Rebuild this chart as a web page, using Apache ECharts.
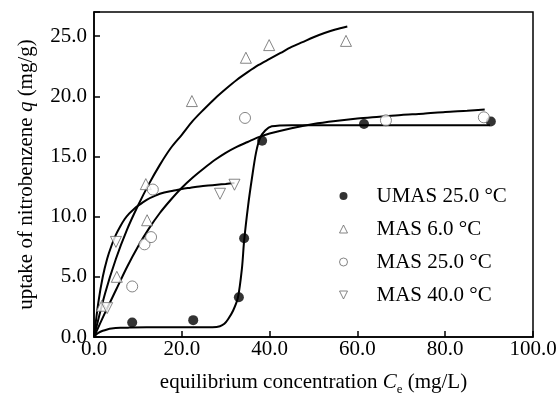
<!DOCTYPE html>
<html>
<head>
<meta charset="utf-8">
<script src="https://cdn.jsdelivr.net/npm/echarts@6/dist/echarts.min.js"></script>
<style>html,body{margin:0;padding:0;background:#fff}#c{width:560px;height:397px}</style>
</head>
<body>
<div id="c"></div>
<script>
// Measured points
const umasX = [8.7, 22.6, 33.0, 34.2, 38.3, 61.5, 90.4];
const umasY = [1.2, 1.4, 3.3, 8.2, 16.3, 17.7, 17.9];
const mas6X = [1.8, 5.2, 12.1, 11.8, 22.3, 34.6, 39.9, 57.4];
const mas6Y = [2.6, 5.0, 9.7, 12.7, 19.6, 23.2, 24.25, 24.6];
const mas25X = [8.7, 11.5, 13.0, 13.4, 34.4, 66.5, 88.8];
const mas25Y = [4.2, 7.7, 8.3, 12.25, 18.2, 18.0, 18.25];
const mas40X = [3.0, 5.0, 28.7, 32.0];
const mas40Y = [2.4, 7.9, 11.9, 12.65];

// Fitted curves
const umasFitX = [0, 0.5, 1, 2, 3, 4, 6, 8, 12, 16, 20, 24, 27, 28.7, 29.7, 30.5, 31.7, 32.8, 33.7, 34.2, 35.1, 36.0, 36.9, 37.8, 39.0, 40.5, 45, 60, 75, 90.2];
const umasFitY = [0, 0.2, 0.35, 0.52, 0.63, 0.7, 0.76, 0.78, 0.8, 0.8, 0.8, 0.81, 0.82, 0.9, 1.1, 1.45, 2.2, 3.3, 5.7, 8.0, 10.9, 13.25, 15.3, 16.5, 17.15, 17.5, 17.6, 17.6, 17.6, 17.6];
const mas6FitX = [0, 2.5, 5, 7.5, 10, 12.5, 15, 17.5, 20, 22.5, 25, 27.5, 30, 32.5, 35, 37.5, 40, 42.5, 45, 47.5, 50, 52.5, 55, 57.7];
const mas6FitY = [0, 3.6, 6.5, 8.9, 10.9, 12.7, 14.3, 15.7, 16.8, 17.95, 18.9, 19.8, 20.6, 21.35, 22.0, 22.6, 23.1, 23.6, 24.1, 24.5, 24.9, 25.25, 25.55, 25.8];
const mas25FitX = [0, 2.5, 5, 7.5, 10, 12.5, 15, 17.5, 20, 22.5, 25, 27.5, 30, 32.5, 35, 37.5, 40, 45, 50, 55, 60, 65, 70, 75, 80, 85, 89];
const mas25FitY = [0, 2.0, 3.9, 5.8, 7.5, 9.0, 10.3, 11.4, 12.4, 13.25, 14.0, 14.7, 15.3, 15.8, 16.2, 16.6, 16.9, 17.35, 17.7, 17.95, 18.15, 18.3, 18.45, 18.55, 18.7, 18.8, 18.9];
const mas40FitX = [0, 1, 2, 3, 4, 5, 6, 7, 8, 9, 10, 12, 14, 16, 18, 20, 22, 24, 26, 28, 30, 32];
const mas40FitY = [0, 2.9, 5.0, 6.5, 7.6, 8.5, 9.2, 9.8, 10.25, 10.6, 10.9, 11.4, 11.75, 12.0, 12.15, 12.3, 12.4, 12.5, 12.58, 12.65, 12.72, 12.8];

const xTicks = [0, 20, 40, 60, 80, 100];
const yTicks = [0, 5, 10, 15, 20, 25];

const names = ['UMAS 25.0 °C', 'MAS 6.0 °C', 'MAS 25.0 °C', 'MAS 40.0 °C'];

function zip(a, b) { return a.map((v, i) => [v, b[i]]); }

const font = 'Liberation Serif';
const gray = '#666';

const chart = echarts.init(document.getElementById('c'));

function scatter(name, xs, ys, symbol, filled) {
  return {
    name: name, type: 'scatter', data: zip(xs, ys), symbol: symbol, symbolSize: filled ? 10 : 11,
    itemStyle: filled ? { color: '#000', borderColor: '#000', borderWidth: 0 }
                      : { color: '#fff', borderColor: gray, borderWidth: 1 },
    z: 3
  };
}
function fit(name, xs, ys) {
  return {
    name: name, type: 'line', data: zip(xs, ys), showSymbol: false, symbol: 'none',
    smooth: 0.3,
    lineStyle: { color: '#000', width: 2 }, z: 2, silent: true
  };
}

chart.setOption({
  animation: false,
  backgroundColor: '#fff',
  textStyle: { fontFamily: font },
  grid: { left: 94, right: 27, top: 12, bottom: 60, containLabel: false, outerBoundsMode: 'none',
    show: true, borderColor: '#000', borderWidth: 1.5, backgroundColor: 'transparent' },
  xAxis: {
    type: 'value', min: 0, max: 100, interval: 20,
    axisLine: { show: true, lineStyle: { color: '#000', width: 1.5 } },
    axisTick: { show: true, inside: true, length: 6, lineStyle: { color: '#000', width: 1.5 } },
    axisLabel: { color: '#000', fontFamily: font, fontSize: 21, margin: 2,
      formatter: v => xTicks.includes(v) ? v.toFixed(1) : '' },
    splitLine: { show: false },
    name: '{n|equilibrium concentration }{i|C}{s|e}{n| (mg/L)}',
    nameLocation: 'middle', nameGap: 32,
    nameTextStyle: { rich: {
      n: { fontFamily: font, fontSize: 21, color: '#000' },
      i: { fontFamily: font, fontSize: 21, color: '#000', fontStyle: 'italic' },
      s: { fontFamily: font, fontSize: 13, color: '#000', verticalAlign: 'bottom', padding: [14, 0, 0, 0] }
    } }
  },
  yAxis: {
    type: 'value', min: 0, max: 27, interval: 5,
    axisLine: { show: true, lineStyle: { color: '#000', width: 1.5 } },
    axisTick: { show: true, inside: true, length: 6, lineStyle: { color: '#000', width: 1.5 } },
    axisLabel: { color: '#000', fontFamily: font, fontSize: 21, margin: 7,
      formatter: v => yTicks.includes(v) ? v.toFixed(1) : '' },
    splitLine: { show: false },
    name: '{n|uptake of nitrobenzene }{i|q}{n| (mg/g)}',
    nameLocation: 'middle', nameGap: 57, nameRotate: 90,
    nameTextStyle: { rich: {
      n: { fontFamily: font, fontSize: 21, color: '#000' },
      i: { fontFamily: font, fontSize: 21, color: '#000', fontStyle: 'italic' }
    } }
  },
  legend: {
    orient: 'vertical', left: 334, top: 180, itemWidth: 8, itemHeight: 8, itemGap: 11,
    data: [
      { name: names[0], icon: 'circle', itemStyle: { color: '#000', borderWidth: 0 } },
      { name: names[1], icon: 'triangle', itemStyle: { color: '#fff', borderColor: gray, borderWidth: 1 } },
      { name: names[2], icon: 'circle', itemStyle: { color: '#fff', borderColor: gray, borderWidth: 1 } },
      { name: names[3], icon: 'path://M0,0 L10,0 L5,10 Z', itemStyle: { color: '#fff', borderColor: gray, borderWidth: 1 } }
    ],
    textStyle: { fontFamily: font, fontSize: 21, color: '#000', lineHeight: 22, padding: [0, 0, 0, 24] }
  },
  series: [
    fit('fitUMAS', umasFitX, umasFitY),
    fit('fit6', mas6FitX, mas6FitY),
    fit('fit25', mas25FitX, mas25FitY),
    fit('fit40', mas40FitX, mas40FitY),
    scatter(names[0], umasX, umasY, 'circle', true),
    scatter(names[1], mas6X, mas6Y, 'triangle', false),
    scatter(names[2], mas25X, mas25Y, 'circle', false),
    scatter(names[3], mas40X, mas40Y, 'path://M0,0 L10,0 L5,10 Z', false)
  ]
});
</script>
</body>
</html>
